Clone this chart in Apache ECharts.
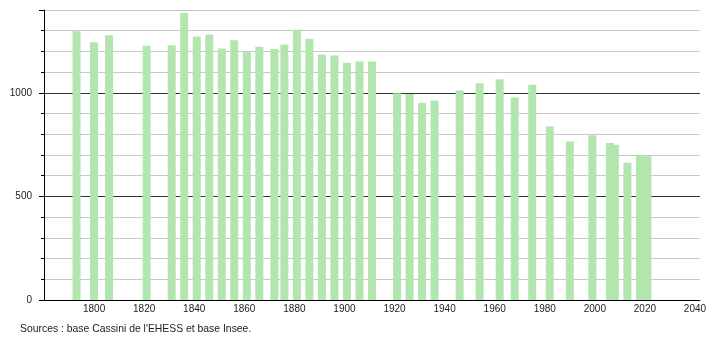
<!DOCTYPE html>
<html><head><meta charset="utf-8">
<script src="https://cdn.jsdelivr.net/npm/echarts@6/dist/echarts.min.js"></script>
<style>html,body{margin:0;padding:0;background:#fff}#c{width:710px;height:340px}</style>
</head><body><div id="c"></div>
<script>
const years = [1793,1800,1806,1821,1831,1836,1841,1846,1851,1856,1861,1866,1872,1876,1881,1886,1891,1896,1901,1906,1911,1921,1926,1931,1936,1946,1954,1962,1968,1975,1982,1990,1999,2006,2008,2013,2018,2021];
const population = [1297,1244,1278,1228,1230,1386,1272,1282,1214,1254,1198,1222,1212,1233,1306,1261,1185,1180,1145,1151,1151,998,995,952,963,1011,1046,1066,977,1039,837,765,795,758,750,662,699,694];
const xTicks = [1800,1820,1840,1860,1880,1900,1920,1940,1960,1980,2000,2020,2040];
const yTickLabels = [0,500,1000];
const sourceText = "Sources : base Cassini de l'EHESS et base Insee.";

const font = 'Liberation Sans, Arial, sans-serif';
const chart = echarts.init(document.getElementById('c'), null, {renderer:'canvas'});
chart.setOption({
  animation:false,
  grid:{left:44,right:10,top:10,bottom:40,containLabel:false},
  graphic:[{type:'text',left:20,top:324,style:{text:sourceText,font:'10.4px '+font,fill:'#222'}}],
  xAxis:{type:'value',min:1780,max:2042,interval:20,
    axisLine:{show:true,lineStyle:{color:'#000',width:1}},
    axisTick:{show:false},splitLine:{show:false},
    axisLabel:{color:'#222',fontFamily:font,fontSize:10,margin:4,
      formatter:v=>xTicks.includes(v)?String(v):''}},
  yAxis:[{type:'value',min:0,max:1400,interval:100,
    axisLine:{show:true,lineStyle:{color:'#000',width:1}},
    axisTick:{show:true,length:3,lineStyle:{color:'#000'}},
    axisLabel:{show:false},
    splitLine:{show:true,lineStyle:{color:['#333','#c8c8c8','#c8c8c8','#c8c8c8','#c8c8c8'],width:1}}},
   {type:'value',min:0,max:1400,interval:500,position:'left',
    axisLine:{show:false},
    axisTick:{show:true,length:5,lineStyle:{color:'#000'}},
    axisLabel:{color:'#222',fontFamily:font,fontSize:10,margin:12,
      formatter:v=>yTickLabels.includes(v)?String(v):''},
    splitLine:{show:false}}],
  series:[{type:'bar',barWidth:8,
    data:years.map((y,i)=>[y,population[i]]),
    itemStyle:{color:'#b3e5af'},z:3}]
});
</script></body></html>
